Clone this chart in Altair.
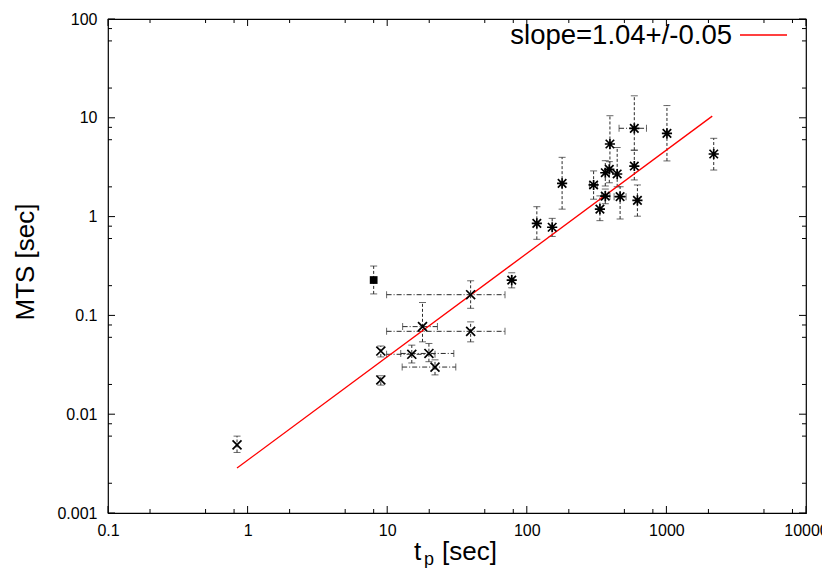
import altair as alt
import pandas as pd

# ---- data ----
cross_x = [0.84, 9.0, 9.0, 15.0, 17.9, 19.9, 22.0, 39.6, 39.6]
cross_y = [0.0049, 0.0436, 0.0222, 0.0404, 0.077, 0.0412, 0.030, 0.162, 0.069]
cross_ylo = [0.0041, 0.038, 0.0197, 0.033, 0.054, 0.034, 0.025, 0.118, 0.054]
cross_yhi = [0.006, 0.049, 0.0245, 0.050, 0.135, 0.052, 0.0355, 0.224, 0.086]
cross_xlo = [0.84, 9.0, 9.0, 9.9, 12.9, 12.5, 12.8, 9.9, 9.9]
cross_xhi = [0.84, 9.0, 9.0, 22.0, 22.9, 30.0, 31.0, 69.8, 69.8]

star_x = [78, 118, 152, 179, 301, 334, 365, 365, 390, 394, 444, 466, 589, 589, 620, 1009, 2183]
star_y = [0.228, 0.855, 0.78, 2.17, 2.09, 1.19, 1.61, 2.78, 3.01, 5.43, 2.70, 1.59, 3.25, 7.83, 1.46, 6.97, 4.30]
star_ylo = [0.19, 0.589, 0.63, 1.19, 1.5, 0.91, 1.35, 2.04, 2.2, 3.0, 2.0, 0.946, 2.35, 4.7, 1.01, 3.66, 2.96]
star_yhi = [0.27, 1.26, 0.96, 3.98, 2.9, 1.62, 1.9, 3.68, 3.6, 10.5, 5.0, 2.0, 4.7, 16.7, 2.09, 13.3, 6.2]
star_xlo = [78, 118, 152, 179, 281, 334, 344, 365, 390, 394, 444, 422, 589, 458, 620, 1009, 2183]
star_xhi = [78, 118, 152, 179, 320, 334, 394, 365, 390, 394, 444, 514, 589, 720, 620, 1009, 2183]

square_x = [8.0]
square_y = [0.228]
square_ylo = [0.165]
square_yhi = [0.316]

fit_x = [0.84, 2130]
fit_y = [0.00285, 10.4]
fit_label = "slope=1.04+/-0.05"

x_major = [0.1, 1, 10, 100, 1000, 10000]
y_major = [0.001, 0.01, 0.1, 1, 10, 100]
x_minor = [0.2, 0.5, 0.8, 2, 5, 8, 20, 50, 80, 200, 500, 800, 2000, 5000, 8000]
y_minor = [0.002, 0.006, 0.008, 0.02, 0.06, 0.08, 0.2, 0.6, 0.8, 2, 6, 8, 20, 60, 80]

x_title_main = "t"
x_title_sub = "p"
x_title_unit = "[sec]"
y_title = "MTS [sec]"

# ---- chart ----
W, H = 698, 494
FONT = "Liberation Sans"
xs = alt.Scale(type="log", domain=[0.1, 10000], nice=False)
ys = alt.Scale(type="log", domain=[0.001, 100], nice=False)

AX = alt.Axis(values=x_major, format="~g", ticks=False, domain=False, grid=False,
              title=None, labelFont=FONT, labelFontSize=16, labelColor="black",
              labelPadding=9, labelFlush=False, labelOverlap=False, labelBound=False)
AY = alt.Axis(values=y_major, format="~g", ticks=False, domain=False, grid=False,
              title=None, labelFont=FONT, labelFontSize=16, labelColor="black",
              labelPadding=11, labelFlush=False, labelOverlap=False, labelBound=False)

def X(f):
    return alt.X(f, scale=xs, axis=AX)

def Y(f):
    return alt.Y(f, scale=ys, axis=AY)

def frame(x, y, ylo, yhi, xlo, xhi, kind):
    return pd.DataFrame({"x": x, "y": y, "ylo": ylo, "yhi": yhi,
                         "xlo": xlo, "xhi": xhi, "kind": kind})

df = pd.concat([
    frame(cross_x, cross_y, cross_ylo, cross_yhi, cross_xlo, cross_xhi, "cross"),
    frame(star_x, star_y, star_ylo, star_yhi, star_xlo, star_xhi, "star"),
    frame(square_x, square_y, square_ylo, square_yhi, square_x, square_x, "square"),
], ignore_index=True)
dfx = df[df["xlo"] != df["xhi"]]

EC = "#2a2a2a"
base = alt.Chart(df)

vbars = base.mark_rule(color=EC, strokeWidth=1, strokeDash=[3, 2]).encode(
    x=X("x:Q"), y=Y("ylo:Q"), y2="yhi:Q")
caps_lo = base.mark_tick(orient="horizontal", size=7, thickness=1, color=EC).encode(
    x=X("x:Q"), y=Y("ylo:Q"))
caps_hi = base.mark_tick(orient="horizontal", size=7, thickness=1, color=EC).encode(
    x=X("x:Q"), y=Y("yhi:Q"))

hbase = alt.Chart(dfx)
hbars = hbase.mark_rule(color=EC, strokeWidth=1, strokeDash=[5, 2, 1, 2]).encode(
    x=X("xlo:Q"), x2="xhi:Q", y=Y("y:Q"))
hcaps_lo = hbase.mark_tick(orient="vertical", size=7, thickness=1, color=EC).encode(
    x=X("xlo:Q"), y=Y("y:Q"))
hcaps_hi = hbase.mark_tick(orient="vertical", size=7, thickness=1, color=EC).encode(
    x=X("xhi:Q"), y=Y("y:Q"))

CROSS = "M-1,-1L1,1M-1,1L1,-1"
STAR = "M-1,-1L1,1M-1,1L1,-1M-1.2,0L1.2,0M0,-1.2L0,1.2"

crosses = alt.Chart(df[df["kind"] == "cross"]).mark_point(
    shape=CROSS, filled=False, color="black", strokeWidth=1.7, size=80, opacity=1).encode(
    x=X("x:Q"), y=Y("y:Q"))
stars = alt.Chart(df[df["kind"] == "star"]).mark_point(
    shape=STAR, filled=False, color="black", strokeWidth=1.7, size=72, opacity=1).encode(
    x=X("x:Q"), y=Y("y:Q"))
squares = alt.Chart(df[df["kind"] == "square"]).mark_point(
    shape="square", filled=True, color="black", opacity=1, size=60).encode(
    x=X("x:Q"), y=Y("y:Q"))

fit = alt.Chart(pd.DataFrame({"x": fit_x, "y": fit_y})).mark_line(
    color="#ff0000", strokeWidth=1.3).encode(x=X("x:Q"), y=Y("y:Q"))

def xticks(vals, ln):
    d = alt.Chart(pd.DataFrame({"v": vals}))
    bot = d.mark_rule(color="black", strokeWidth=1).encode(
        x=X("v:Q"), y=alt.value(H), y2=alt.value(H - ln))
    top = d.mark_rule(color="black", strokeWidth=1).encode(
        x=X("v:Q"), y=alt.value(0), y2=alt.value(ln))
    return [bot, top]

def yticks(vals, ln):
    d = alt.Chart(pd.DataFrame({"v": vals}))
    left = d.mark_rule(color="black", strokeWidth=1).encode(
        y=Y("v:Q"), x=alt.value(0), x2=alt.value(ln))
    right = d.mark_rule(color="black", strokeWidth=1).encode(
        y=Y("v:Q"), x=alt.value(W), x2=alt.value(W - ln))
    return [left, right]

tick_layers = xticks(x_major, 7) + xticks(x_minor, 4) + yticks(y_major, 7) + yticks(y_minor, 4)

# titles
one = pd.DataFrame({"a": [0]})
def txt(text, x, y, size, **kw):
    return alt.Chart(one).mark_text(text=text, font=FONT, fontSize=size,
                                    color="black", **kw).encode(
        x=alt.value(x), y=alt.value(y))

titles = [
    txt(x_title_main, 306, 541, 26, align="left", baseline="alphabetic"),
    txt(x_title_sub, 316, 546, 18, align="left", baseline="alphabetic"),
    txt(x_title_unit, 334, 541, 26, align="left", baseline="alphabetic"),
    txt(y_title, -74, 243, 26, align="center", baseline="alphabetic", angle=270),
    txt(fit_label, 624, 25, 27.5, align="right", baseline="alphabetic"),
]
legend_line = alt.Chart(one).mark_rule(color="#ff0000", strokeWidth=1.3).encode(
    x=alt.value(632), x2=alt.value(679), y=alt.value(16))

chart = alt.layer(
    *tick_layers,
    vbars, caps_lo, caps_hi, hbars, hcaps_lo, hcaps_hi,
    fit, crosses, stars, squares, *titles, legend_line
).properties(
    width=W, height=H,
    padding={"left": 100, "top": 11, "right": 16, "bottom": 55},
    autosize=alt.AutoSizeParams(type="none"),
).configure_view(stroke="black", strokeWidth=1.2)

chart.save("out.html", embed_options={"renderer": "svg", "actions": False})
